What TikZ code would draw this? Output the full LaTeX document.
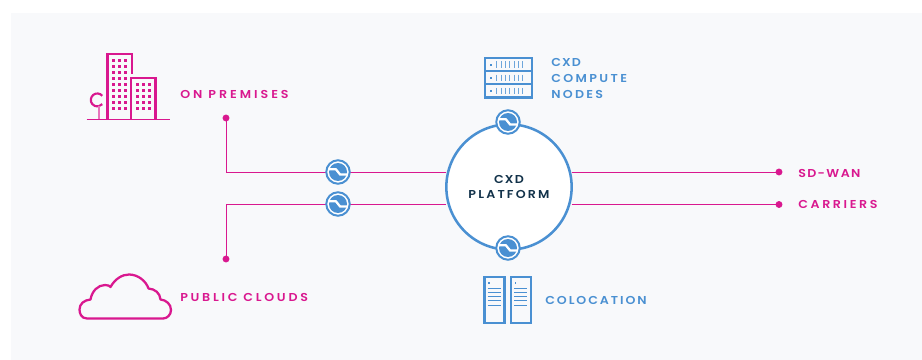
\documentclass[tikz,border=0pt]{standalone}
\usepackage{fontspec}
\setmainfont{Poppins}[BoldFont={Poppins SemiBold},FakeStretch=1.1]
\usetikzlibrary{calc, positioning}
\definecolor{pinkline}{HTML}{D9188F}
\definecolor{blueline}{HTML}{4A90D2}
\definecolor{darktext}{HTML}{12324A}
\definecolor{panelbg}{HTML}{F8F9FB}
\tikzset{
  pinklabel/.style={text=pinkline, font=\fontsize{8.6}{12}\selectfont\bfseries, inner sep=0, anchor=west, align=left},
  bluelabel/.style={text=blueline, font=\fontsize{8.6}{12}\selectfont\bfseries, inner sep=0, anchor=west, align=left},
  endpoint/.style={circle, fill=pinkline, minimum size=5.2pt, inner sep=0},
  link/.style={draw=pinkline, line width=0.75pt, shorten <=-1pt, shorten >=-1pt},
  switchnode/.style={circle, draw=blueline, fill=white, line width=1.5pt, minimum size=17.6pt, inner sep=0},
  platform/.style={circle, draw=blueline, fill=white, line width=1.9pt, minimum size=94pt, inner sep=0, text=darktext, align=center, font=\fontsize{8.6}{11.5}\selectfont\bfseries},
}
% letter spacing of one label, in percent of the font size
\newcommand{\lsp}[1]{\addfontfeature{LetterSpace=#1}}
% draws the small blue disc with the white step inside a switch node
\newcommand{\switchglyph}[1]{
  \fill[blueline] (#1) circle (9);
  \draw[white, line width=1.7pt] ($(#1)+(-9,-2.8)$) -- ($(#1)+(-2.2,-2.8)$) -- ($(#1)+(2.2,2.6)$) -- ($(#1)+(9,2.6)$);
}
\begin{document}
\begin{tikzpicture}[x=0.75pt, y=-0.75pt]
    \useasboundingbox (0,0) rectangle (922,360);
    \fill[white] (0,0) rectangle (922,360);
    \fill[panelbg] (11,13) rectangle (922,360);

    % Dots at the free ends of the links
    \node[endpoint] (premdot) at (226,118) {};
    \node[endpoint] (clouddot) at (226,259) {};
    \node[endpoint] (wandot) at (779,172) {};
    \node[endpoint] (carrierdot) at (779,204.5) {};

    % Platform and links
    \node[platform] (cxd) at (509,187) {{\lsp{10}CXD}\\{\lsp{19}PLATFORM}};
    \coordinate (premleft) at (226,172);
    \coordinate (cloudleft) at (226,204.5);
    \draw[link] (premdot) -- (premleft) -- (premleft -| cxd.west);
    \draw[link] (clouddot) -- (cloudleft) -- (cloudleft -| cxd.west);
    \draw[link] (wandot -| cxd.east) -- (wandot);
    \draw[link] (carrierdot -| cxd.east) -- (carrierdot);

    % Switches
    \foreach \name/\pos in {swa/{338,172}, swb/{338,204}, swc/{508,122}, swd/{508,248}} {
      \node[switchnode] (\name) at (\pos) {};
      \switchglyph{\name}
    }

    % Labels
    \node[pinklabel] (premlabel) at (180,94) {\lsp{26}ON PREMISES};
    \node[pinklabel] (cloudlabel) at (180,297) {\lsp{24}PUBLIC CLOUDS};
    \node[pinklabel] (wanlabel) at (798,173) {\lsp{12}SD-WAN};
    \node[pinklabel] (carrierlabel) at (798,204) {\lsp{23}CARRIERS};
    \node[bluelabel] (computelabel) at (551,78) {{\lsp{10}CXD}\\{\lsp{21}COMPUTE}\\{\lsp{20}NODES}};
    \node[bluelabel] (colocationlabel) at (545,300) {\lsp{17}COLOCATION};

    % Buildings
    \draw[pinkline, line width=0.9pt] (86.5,119.5) -- (169.5,119.5);
    \draw[pinkline, line width=1.8pt] (107.5,119) -- (107.5,54) -- (132,54) -- (132,74);
    \draw[pinkline, line width=1.8pt] (131,119) -- (131,78) -- (155.5,78) -- (155.5,119);
    \foreach \col in {113.3,119.3,125.3}
      \foreach \row in {0,...,8}
        \fill[pinkline] (\col-1.45,60.7+\row*6-1.45) rectangle +(2.9,2.9);
    \foreach \col in {137.3,143.3,149.3}
      \foreach \row in {0,...,4}
        \fill[pinkline] (\col-1.45,84.7+\row*6-1.45) rectangle +(2.9,2.9);
    % Tree
    \draw[pinkline, line width=1.6pt] (102.3,95.8) arc (320:40:6.5);
    \draw[pinkline!60, line width=1.3pt] (99,106) -- (99,119);

    % Cloud
    \draw[pinkline, line width=1.7pt, line join=round]
      (87,318.5) .. controls (81,318.5) and (79.5,313) .. (79.5,309.5)
      .. controls (79.5,304) and (84,300) .. (90.5,299.5)
      .. controls (92,291) and (98,285) .. (105,285)
      .. controls (108,285) and (110,286) .. (110.5,287)
      .. controls (115,279) and (122,274.5) .. (129,274.5)
      .. controls (138,274.5) and (146,281) .. (148.5,288.5)
      .. controls (155,289) and (160,293) .. (160.5,299.5)
      .. controls (166,300) and (171,304) .. (171,310)
      .. controls (171,315) and (167,318.5) .. (163,318.5)
      -- cycle;

    % Compute nodes icon
    \draw[blueline, line width=1.7pt] (485,58) rectangle (532,97.5);
    \draw[blueline, line width=1.5pt] (485,71.2) -- (532,71.2);
    \draw[blueline, line width=1.5pt] (485,84.4) -- (532,84.4);
    \foreach \rowy in {64.6,77.8,91} {
      \fill[blueline] (489.8,\rowy-1) rectangle +(2,2);
      \foreach \n in {0,...,6}
        \draw[blueline!80, line width=0.6pt] (496.7+\n*4.33,\rowy-3.2) -- (496.7+\n*4.33,\rowy+3.2);
    }

    % Colocation icon
    \foreach \rackx in {484.5,511} {
      \draw[blueline, line width=1.7pt] (\rackx,277) rectangle (\rackx+20,323);
      \fill[blueline] (\rackx+3.5,281.8) rectangle +(1.8,1.8);
      \foreach \liney in {288.7,292.7,296.7,300.7,305}
        \draw[blueline, line width=0.6pt] (\rackx+3,\liney) -- (\rackx+16.2,\liney);
    }
\end{tikzpicture}
\end{document}
